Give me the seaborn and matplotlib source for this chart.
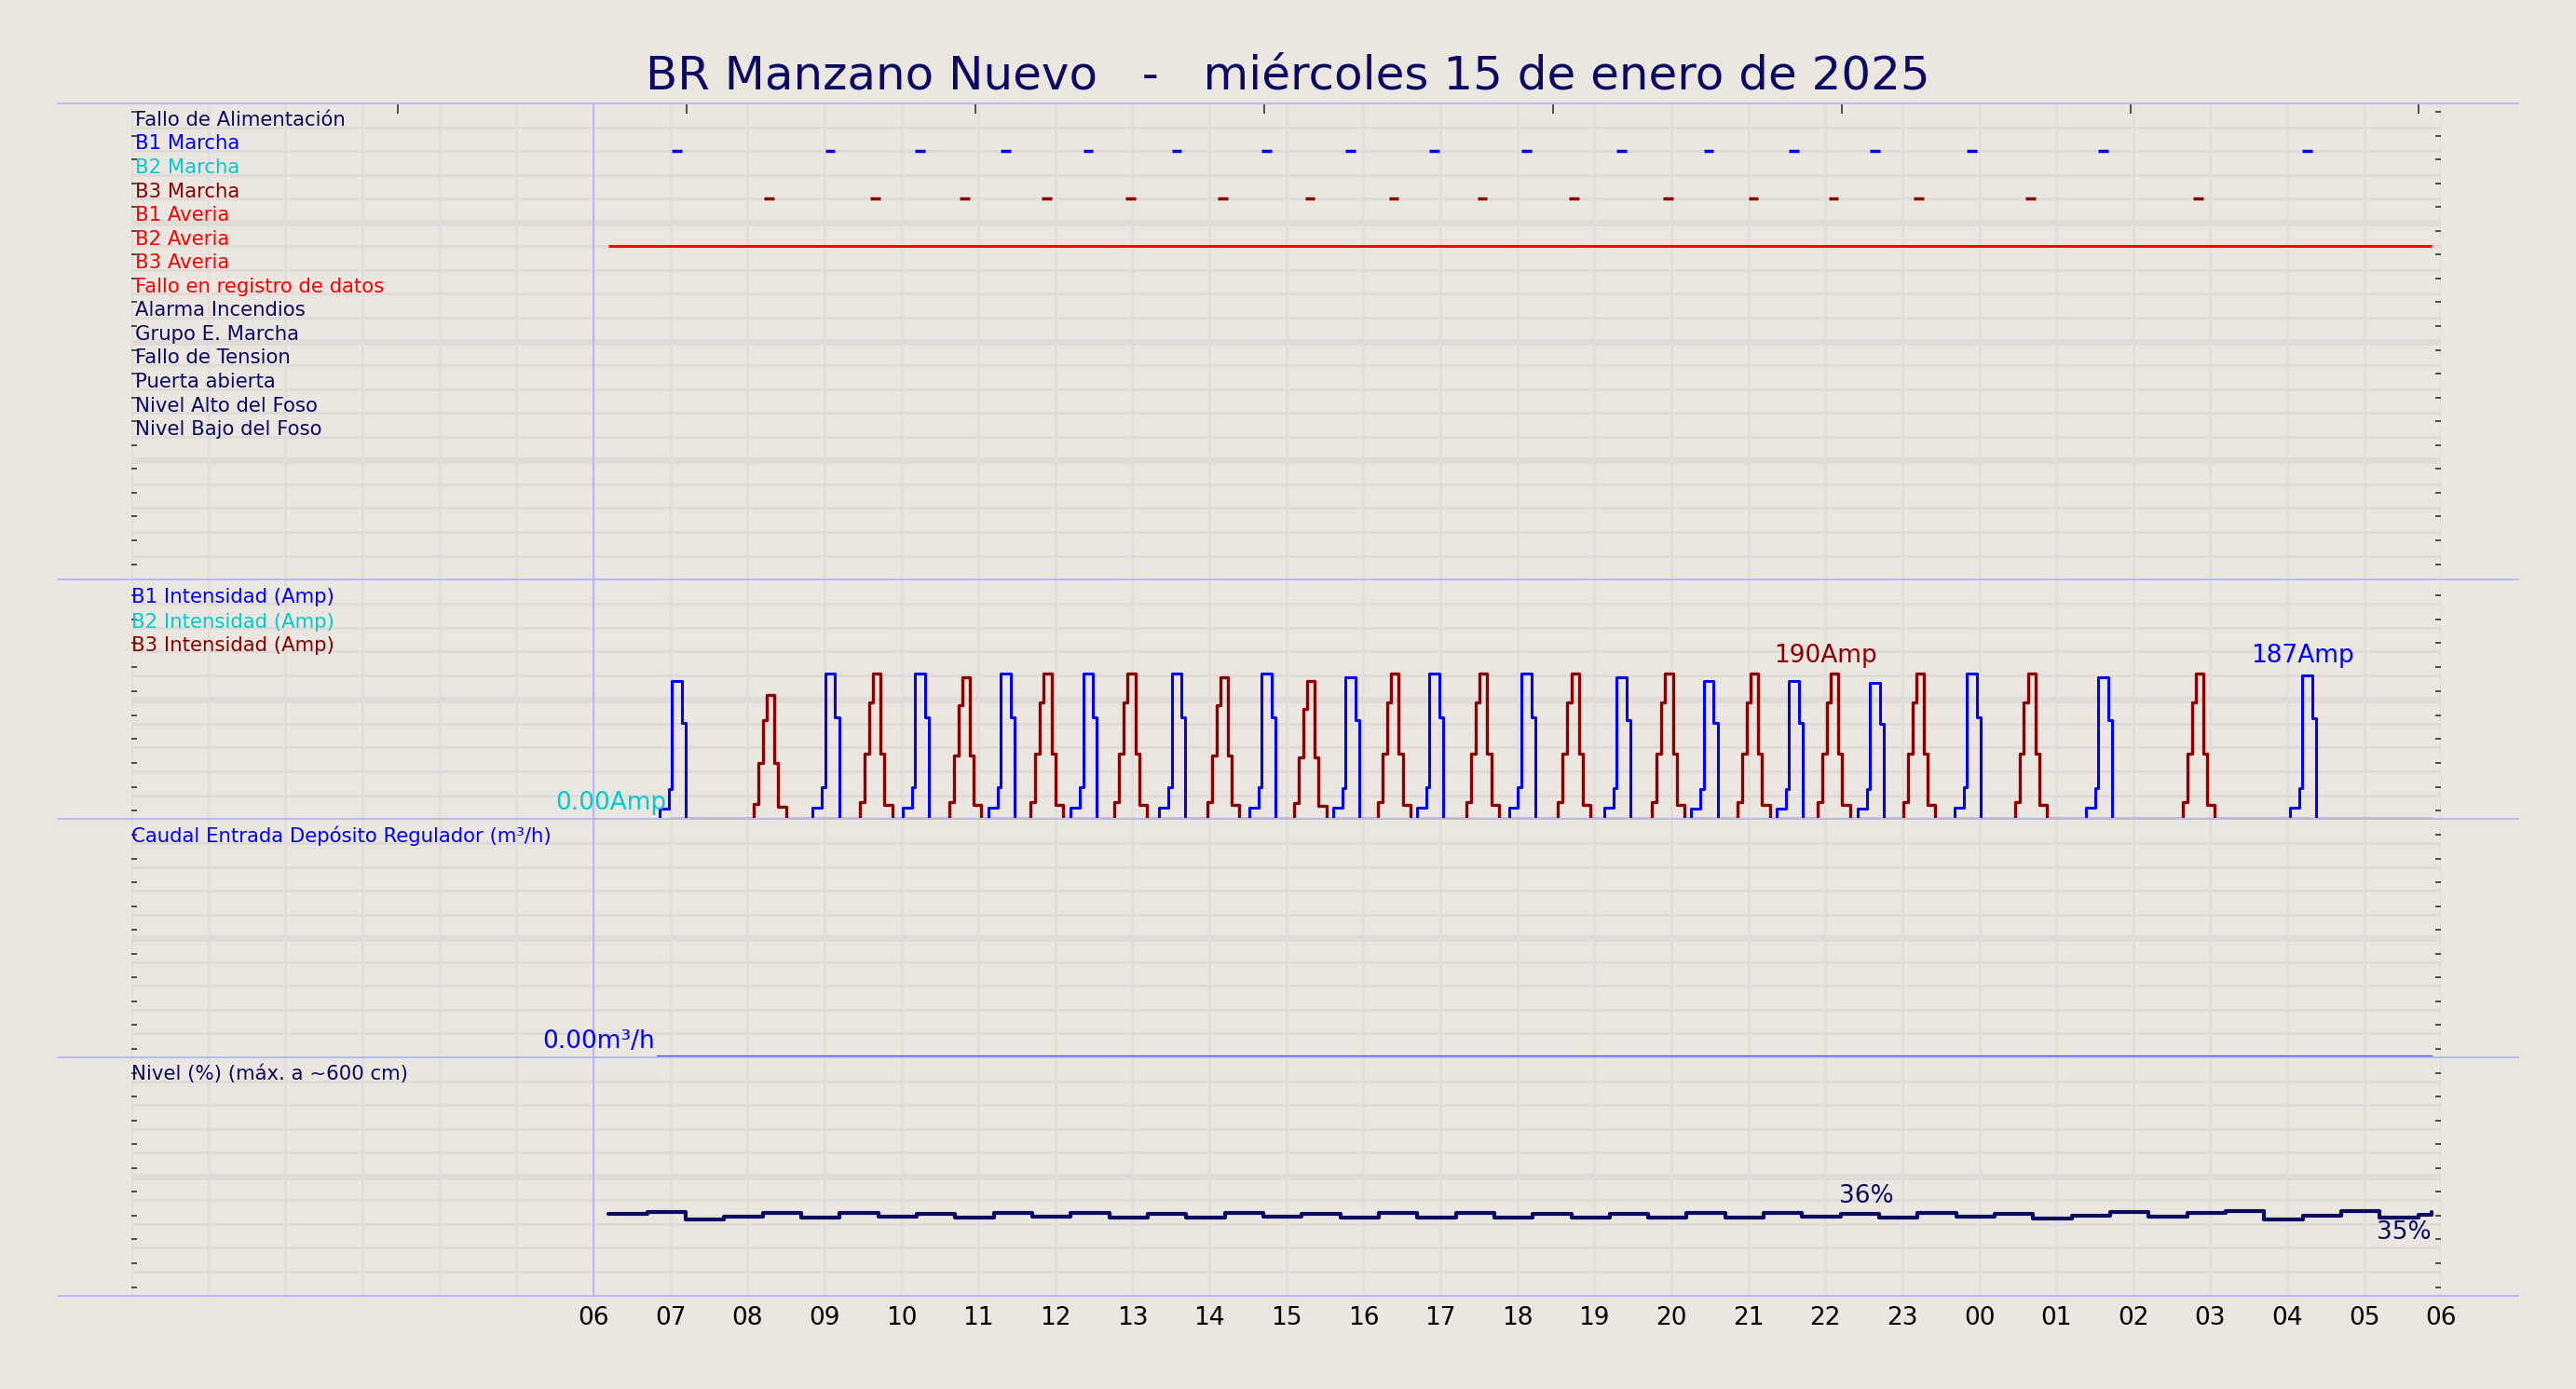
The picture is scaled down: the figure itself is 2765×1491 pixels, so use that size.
import numpy as np
import pandas as pd
import matplotlib
matplotlib.use("Agg")
import matplotlib.pyplot as plt
import seaborn as sns
from matplotlib.lines import Line2D

title = "BR Manzano Nuevo   -   miércoles 15 de enero de 2025"
signal_labels = ["Fallo de Alimentación", "B1 Marcha", "B2 Marcha", "B3 Marcha", "B1 Averia",
                 "B2 Averia", "B3 Averia", "Fallo en registro de datos", "Alarma Incendios",
                 "Grupo E. Marcha", "Fallo de Tension", "Puerta abierta", "Nivel Alto del Foso",
                 "Nivel Bajo del Foso"]
NAVY = "#0a0a64"
signal_colors = [NAVY, "#0000ff", "#00cccc", "#8b0000", "#ff0000", "#ff0000", "#ff0000", "#ff0000",
                 NAVY, NAVY, NAVY, NAVY, NAVY, NAVY]
tick_labels = ["06", "07", "08", "09", "10", "11", "12", "13", "14", "15", "16", "17", "18", "19",
               "20", "21", "22", "23", "00", "01", "02", "03", "04", "05", "06"]

# pump run times (hours, 6 = 06:00 day 15)
b1_runs = [7.08, 9.07, 10.24, 11.35, 12.42, 13.57, 14.74, 15.83, 16.92, 18.11, 19.35, 20.48,
           21.59, 22.64, 23.90, 25.60, 28.25]
b1_peaks = [180, 190, 190, 190, 190, 190, 190, 185, 190, 190, 185, 180, 180, 178, 190, 185, 187]
b3_runs = [8.28, 9.66, 10.82, 11.88, 12.97, 14.17, 15.30, 16.39, 17.54, 18.73, 19.95, 21.06,
           22.10, 23.21, 24.66, 26.84]
b3_peaks = [162, 190, 185, 190, 190, 185, 180, 190, 190, 190, 190, 190, 190, 190, 190, 190]
# step profile of a pump start (offset hours from run mark, fraction of peak)
b1_prof_t = [-0.22, -0.10, -0.06, 0.07, 0.12]
b1_prof_f = [0.08, 0.22, 1.0, 0.7, 0.0]
b3_prof_t = [-0.20, -0.14, -0.08, -0.03, 0.07, 0.12, 0.22]
b3_prof_f = [0.12, 0.45, 0.8, 1.0, 0.45, 0.1, 0.0]
b2_averia = (6.19, 29.87)
caudal = (6.83, 29.87)
level_start = 6.2
level_vals = [35.8, 36.6, 33.6, 34.8, 36.4, 34.2, 36.4, 34.6, 36.0, 34.2, 36.2, 34.6, 36.4, 34.4,
              36.0, 34.2, 36.4, 34.8, 36.0, 34.2, 36.4, 34.4, 36.4, 34.2, 36.0, 34.4, 36.0, 34.2,
              36.4, 34.4, 36.4, 34.8, 36.0, 34.2, 36.4, 34.8, 36.0, 33.8, 35.2, 36.8, 34.8, 36.2,
              37.2, 33.4, 35.2, 37.4, 34.2, 35.6, 36.8]

BG = "#ebe6e0"
sns.set_style("white", {"axes.facecolor": BG, "figure.facecolor": BG})
plt.rcParams['font.family'] = ['DejaVu Sans']

fig = plt.figure(figsize=(27.65, 14.91), dpi=100, facecolor=BG)
L, R = 80 / 1568, 1486 / 1568
ys = [63, 353, 499, 644, 789]
axes = []
for i in range(4):
    b = 1 - ys[i + 1] / 846
    t = 1 - ys[i] / 846
    axes.append(fig.add_axes([L, b, R - L, t - b]))

def style(ax, nrows, ylim, invert=False):
    ax.set_facecolor(BG)
    ax.set_xlim(0, 30)
    if invert:
        ax.set_ylim(ylim[1], ylim[0])
    else:
        ax.set_ylim(*ylim)
    for s in ax.spines.values():
        s.set_visible(False)
    lo, hi = ylim
    step = (hi - lo) / nrows
    for k in range(1, nrows):
        yv = lo + k * step
        ax.axhline(yv, color="#e0dbd9", lw=5 if k % 5 == 0 else 2.2, zorder=0)
    for h in range(0, 31):
        ax.axvline(h, color="#e3dedb", lw=2, zorder=0)
    ax.axvline(6, color="#b8b8ff", lw=1.5, zorder=1)
    ax.set_yticks([lo + k * step + step * 0.35 for k in range(nrows)])
    ax.set_yticklabels([])
    ax.tick_params(axis="y", left=True, right=True, length=4, width=1.2, color="#333333",
                   direction="in")
    ax.set_xticks(range(6, 31))
    ax.set_xticklabels([])
    ax.tick_params(axis="x", length=0)

# --- panel 1: signals
ax1 = axes[0]
style(ax1, 20, (0, 20), invert=True)
for i, (lab, col) in enumerate(zip(signal_labels, signal_colors)):
    ax1.text(0.05, i + 0.7, lab, color=col, fontsize=15.3, va="center", ha="left")
for tm in b1_runs:
    ax1.hlines(2.0, tm - 0.06, tm + 0.07, color="#0000ff", lw=2.5)
for tm in b3_runs:
    ax1.hlines(4.0, tm - 0.06, tm + 0.07, color="#8b0000", lw=2.5)
ax1.hlines(6.0, *b2_averia, color="#ff0000", lw=2.2)
sec = ax1.secondary_xaxis("top")
sec.set_xticks([3.46 + 3.75 * k for k in range(8)])
sec.set_xticklabels([])
sec.tick_params(direction="in", length=8, width=1.2, color="#333333")
for s in sec.spines.values():
    s.set_visible(False)

# --- panel 2: intensities
def build(runs, peaks, pt, pf, start, end):
    ts, vs = [start], [0.0]
    for tm, pk in zip(runs, peaks):
        for o, f in zip(pt, pf):
            ts.append(tm + o)
            vs.append(f * pk)
    ts.append(end)
    vs.append(0.0)
    return pd.DataFrame({"t": ts, "v": vs})

ax2 = axes[1]
style(ax2, 10, (0, 312))
df_b2 = pd.DataFrame({"t": [7.0, 29.87], "v": [0.0, 0.0]})
sns.lineplot(data=df_b2, x="t", y="v", ax=ax2, color="#00cccc", lw=2.2, sort=False, estimator=None)
df_b1 = build(b1_runs, b1_peaks, b1_prof_t, b1_prof_f, 7.0, 29.87)
df_b3 = build(b3_runs, b3_peaks, b3_prof_t, b3_prof_f, 7.0, 29.87)
sns.lineplot(data=df_b1, x="t", y="v", ax=ax2, color="#0000ff", lw=2.2, sort=False,
             estimator=None, drawstyle="steps-post")
sns.lineplot(data=df_b3, x="t", y="v", ax=ax2, color="#8b0000", lw=2.4, sort=False,
             estimator=None, drawstyle="steps-post")
for j, (lab, col) in enumerate(zip(["B1 Intensidad (Amp)", "B2 Intensidad (Amp)", "B3 Intensidad (Amp)"],
                                   ["#0000ff", "#00cccc", "#8b0000"])):
    ax2.text(0.0, [0.925, 0.822, 0.726][j], lab, transform=ax2.transAxes, color=col,
             fontsize=15.3, va="center")
ax2.text(6.95, 5, "0.00Amp", color="#00cccc", fontsize=19, ha="right", va="bottom")
ax2.text(29.87, -8, "0.00Amp", color="#8b0000", fontsize=19, ha="right", va="top", clip_on=False)
ax2.text(22.0, 197, "190Amp", color="#8b0000", fontsize=19, ha="center", va="bottom")
ax2.text(28.2, 197, "187Amp", color="#0000ff", fontsize=19, ha="center", va="bottom")
ax2.set_xlabel(""); ax2.set_ylabel("")

# --- panel 3: caudal
ax3 = axes[2]
style(ax3, 10, (0, 10))
df_c = pd.DataFrame({"t": list(caudal), "v": [0.0, 0.0]})
sns.lineplot(data=df_c, x="t", y="v", ax=ax3, color="#4040ff", lw=3, sort=False, estimator=None,
             clip_on=False)
ax3.text(0.0, 0.931, "Caudal Entrada Depósito Regulador (m³/h)", transform=ax3.transAxes,
         color="#0000ff", fontsize=15.3, va="center")
ax3.text(6.8, 0.15, "0.00m³/h", color="#0000ff", fontsize=19, ha="right", va="bottom")
ax3.text(29.87, -0.3, "0.00m³/h", color="#0000ff", fontsize=19, ha="right", va="top", clip_on=False)
ax3.set_xlabel(""); ax3.set_ylabel("")

# --- panel 4: level
ax4 = axes[3]
style(ax4, 10, (0, 105))
lt = [level_start + 0.5 * k for k in range(len(level_vals) - 1)] + [29.87]
df_l = pd.DataFrame({"t": lt, "v": level_vals})
sns.lineplot(data=df_l, x="t", y="v", ax=ax4, color=NAVY, lw=3, sort=False, estimator=None,
             drawstyle="steps-post")
ax4.text(0.0, 0.931, "Nivel (%) (máx. a ~600 cm)", transform=ax4.transAxes, color=NAVY,
         fontsize=15.3, va="center")
ax4.text(22.53, 38.5, "36%", color=NAVY, fontsize=19, ha="center", va="bottom")
ax4.text(29.87, 33.0, "35%", color=NAVY, fontsize=19, ha="right", va="top")
ax4.set_xticklabels(tick_labels, fontsize=19, color="black")
ax4.tick_params(axis="x", pad=8)
ax4.set_xlabel(""); ax4.set_ylabel("")

for y in ys:
    fig.add_artist(Line2D([35 / 1568, 1533 / 1568], [1 - y / 846] * 2, color="#b8b8ff", lw=1.5))

fig.text(0.5, 1 - 46 / 846, title, color=NAVY, fontsize=36, ha="center", va="center")
fig.savefig("out.png", dpi=100, facecolor=BG)
